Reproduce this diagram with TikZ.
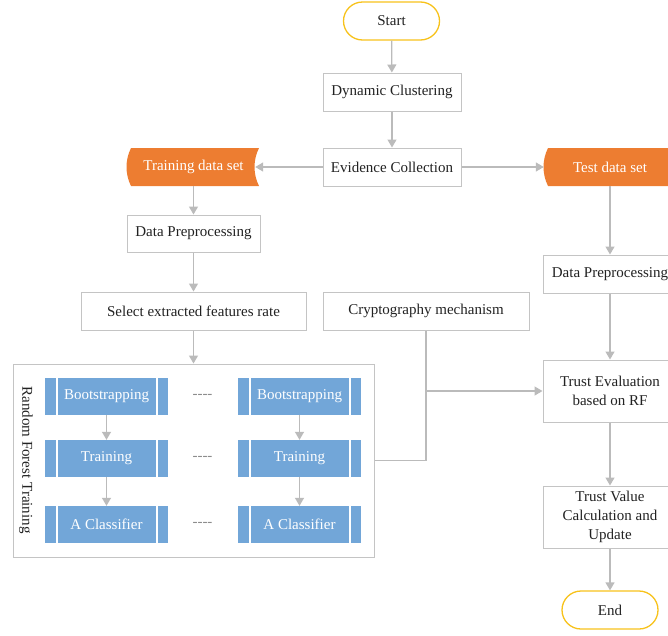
\documentclass[tikz,border=0pt]{standalone}
\usepackage{fontspec}
\setmainfont{Liberation Serif}
\usetikzlibrary{arrows.meta,calc}
\definecolor{lgray}{HTML}{C4C4C4}
\definecolor{agray}{HTML}{BBBBBB}
\definecolor{orng}{HTML}{ED7D31}
\definecolor{gold}{HTML}{F7C21B}
\definecolor{blu}{HTML}{72A6D8}
\definecolor{txt}{HTML}{222222}
\definecolor{dgray}{HTML}{8C8C8C}
\tikzset{
  every node/.style={font=\fontsize{15}{19}\selectfont, text=txt},
  box/.style={draw=lgray, line width=1pt, fill=white, align=center, inner sep=0pt},
  term/.style={draw=gold, line width=1.3pt, rounded corners=19pt, inner sep=0pt, minimum width=96pt, minimum height=38pt},
  datalbl/.style={text=white, inner sep=0pt, minimum height=38pt},
  bluebox/.style={fill=blu, text=white, inner sep=0pt, minimum width=123pt, minimum height=37pt,
    path picture={\draw[white, line width=1.6pt]
      ([xshift=12pt]path picture bounding box.north west) -- ([xshift=12pt]path picture bounding box.south west)
      ([xshift=-11pt]path picture bounding box.north east) -- ([xshift=-11pt]path picture bounding box.south east);}},
  arr/.style={draw=agray, line width=1.3pt, -{Triangle[length=8pt,width=9pt]}},
  lin/.style={draw=agray, line width=1.3pt},
  dots/.style={text=dgray}
}
\begin{document}
\begin{tikzpicture}[x=1pt,y=-1pt]
\useasboundingbox (0,0) rectangle (668,635);
\clip (0,0) rectangle (668,635);

% data set shapes
\fill[orng] (131,148) -- (259,148) .. controls (253,160) and (253,174) .. (259,186) -- (131,186) .. controls (125,174) and (125,160) .. (131,148) -- cycle;
\fill[orng] (548,148) -- (690,148) -- (690,186) -- (548,186) .. controls (542,174) and (542,160) .. (548,148) -- cycle;

\node[term] (start) at (391.5,21) {Start};
\node[box, minimum width=138pt, minimum height=38pt] (dc) at (392,92) {Dynamic Clustering};
\node[box, minimum width=138pt, minimum height=38pt] (ec) at (392,167) {Evidence Collection};
\node[datalbl, minimum width=123pt] (tds) at (193.5,167) {Training data set};
\node[datalbl, minimum width=132pt] (tes) at (610,167) {Test data set};
\node[box, minimum width=133pt, minimum height=37pt] (dpl) at (193.5,233.5) {Data Preprocessing};
\node[box, minimum width=225pt, minimum height=38pt] (sel) at (193.5,311) {Select extracted features rate};
\node[box, minimum width=206pt, minimum height=38pt] (cry) at (426,311) {Cryptography mechanism};
\node[box, minimum width=134pt, minimum height=38pt] (dpr) at (610,274) {Data Preprocessing};
\node[box, minimum width=134pt, minimum height=62pt] (te) at (610,391) {Trust Evaluation\\based on RF};
\node[box, minimum width=134pt, minimum height=62pt] (tv) at (610,517) {Trust Value\\Calculation and\\Update};
\node[term] (end) at (610,610) {End};

% random forest block
\node[box, minimum width=361pt, minimum height=193pt] (rf) at (193.5,460.5) {};
\node[rotate=-90] (rflbl) at (26,460) {Random Forest Training};
\node[bluebox] (b1) at (106.5,396.5) {Bootstrapping};
\node[bluebox] (b2) at (106.5,458.5) {Training};
\node[bluebox] (b3) at (106.5,524.5) {A Classifier};
\node[bluebox] (c1) at (299.5,396.5) {Bootstrapping};
\node[bluebox] (c2) at (299.5,458.5) {Training};
\node[bluebox] (c3) at (299.5,524.5) {A Classifier};
\node[dots] (d1) at (202.5,396.5) {-{}-{}-{}-};
\node[dots] (d2) at (202.5,458.5) {-{}-{}-{}-};
\node[dots] (d3) at (202.5,524.5) {-{}-{}-{}-};

% connectors
\draw[arr] (start) -- (dc);
\draw[arr] (dc) -- (ec);
\draw[arr] (ec) -- (tds);
\draw[arr] (ec) -- (tes);
\draw[arr] (tds) -- (dpl);
\draw[arr] (dpl) -- (sel);
\draw[arr] (sel) -- (rf);
\draw[arr] (tes) -- (dpr);
\draw[arr] (dpr) -- (te);
\draw[arr] (te) -- (tv);
\draw[arr] (tv) -- (end);
\draw[arr] (b1) -- (b2);
\draw[arr] (b2) -- (b3);
\draw[arr] (c1) -- (c2);
\draw[arr] (c2) -- (c3);
\draw[lin] (rf.east) -- (cry.south |- rf.east) -- (cry.south);
\draw[arr] (cry.south |- te.west) -- (te.west);
\end{tikzpicture}
\end{document}
